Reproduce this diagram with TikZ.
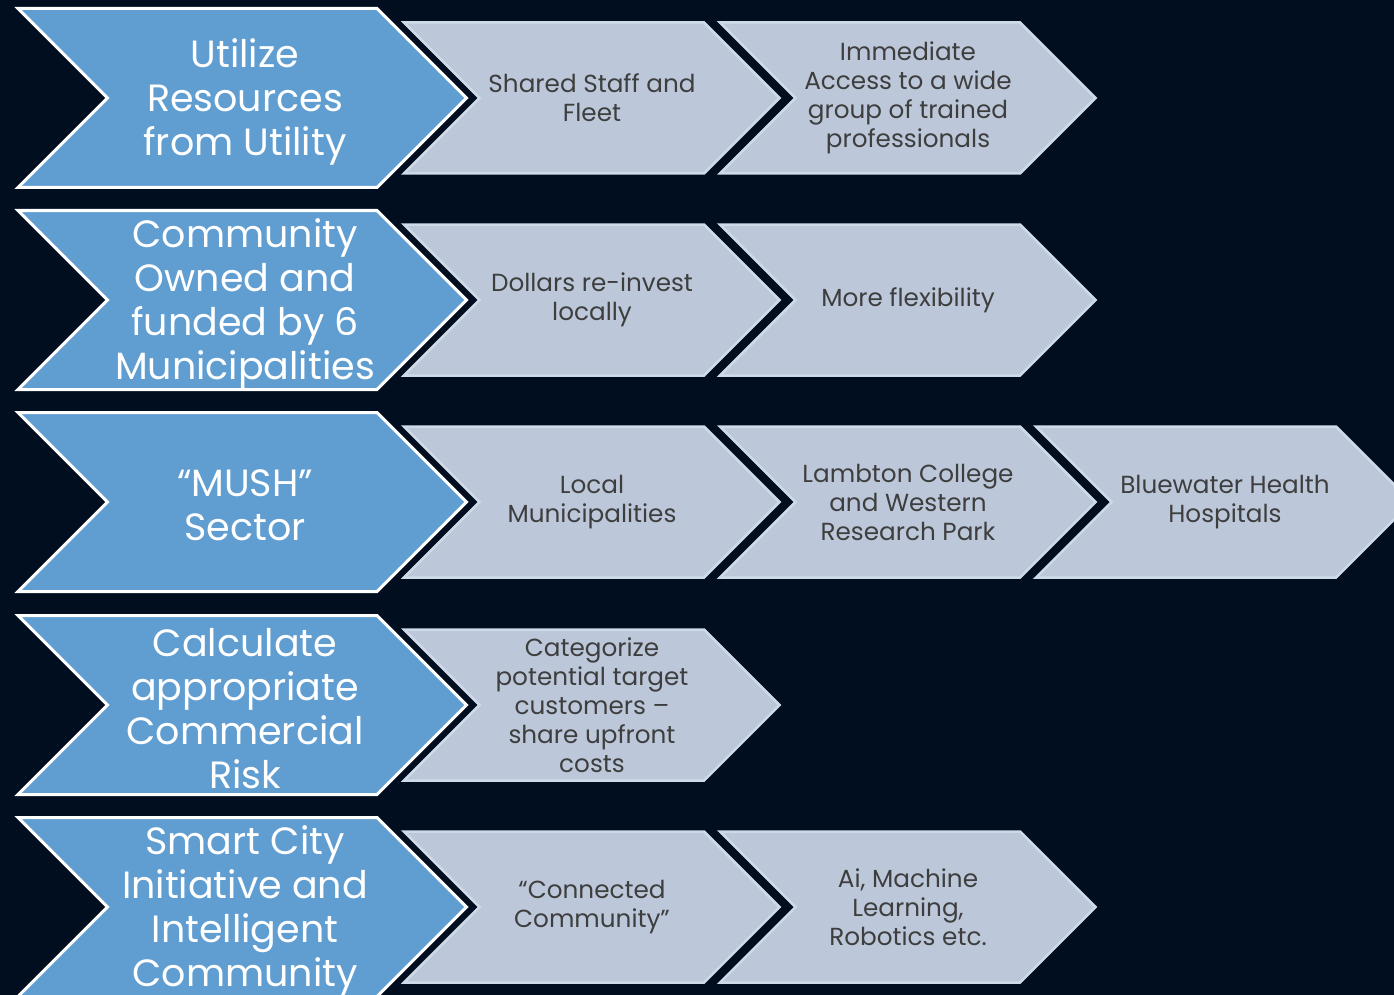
\documentclass[tikz,border=0pt]{standalone}
\usepackage{fontspec}
\setmainfont{Poppins}
\definecolor{bg}{RGB}{1,14,32}
\definecolor{chevblue}{RGB}{96,157,209}
\definecolor{chevlight}{RGB}{188,200,218}
\definecolor{chevedge}{RGB}{207,218,233}
\definecolor{txtgrey}{RGB}{62,62,62}
% chevron outline: style, left x, centre y, top edge length, half height
\newcommand\chevshape[5]{%
  \path[#1] (#2,#3-#5) -- ++(#4,0) -- ++(#5,#5) -- ++(-#5,#5) -- ++(-#4,0) -- ++(#5,-#5) -- cycle;}
\tikzset{
  bluechev/.style={fill=chevblue, draw=white, line width=3pt, line join=miter},
  lightchev/.style={fill=chevlight, draw=chevedge, line width=2.5pt, line join=miter},
  bluetext/.style={text=white, font=\fontsize{38}{44}\selectfont, align=center, inner sep=0pt, yshift=-3.5pt},
  lighttext/.style={text=txtgrey, font=\fontsize{24.7}{29}\selectfont, align=center, inner sep=0pt}
}
\begin{document}
\begin{tikzpicture}[x=1pt,y=-1pt]
\fill[bg] (0,0) rectangle (1394,995);
\useasboundingbox (0,0) rectangle (1394,995);
\clip (0,0) rectangle (1394,995);

% big blue chevrons, one per row
\foreach \yc in {98,300,502,705,907}{
  \chevshape{bluechev}{18}{\yc}{359}{89.5}
}
% light chevrons
\foreach \xo/\yc in {404/98,720/98, 404/300,720/300, 404/502,720/502,1036/502, 404/705, 404/907,720/907}{
  \chevshape{lightchev}{\xo}{\yc}{300}{75.5}
}

% row 1
\node[bluetext] (b1) at (245,98) {Utilize\\Resources\\from Utility};
\node[lighttext] (l11) at (592,98) {Shared Staff and\\Fleet};
\node[lighttext] (l12) at (908,98) {Immediate\\Access to a wide\\group of trained\\professionals};
% row 2
\node[bluetext] (b2) at (245,300) {Community\\Owned and\\funded by 6\\Municipalities};
\node[lighttext] (l21) at (592,300) {Dollars re-invest\\locally};
\node[lighttext] (l22) at (908,300) {More flexibility};
% row 3
\node[bluetext] (b3) at (245,502) {“MUSH”\\Sector};
\node[lighttext] (l31) at (592,502) {Local\\Municipalities};
\node[lighttext] (l32) at (908,502) {Lambton College\\and Western\\Research Park};
\node[lighttext] (l33) at (1225,502) {Bluewater Health\\Hospitals};
% row 4
\node[bluetext] (b4) at (245,705) {Calculate\\appropriate\\Commercial\\Risk};
\node[lighttext] (l41) at (592,705) {Categorize\\potential target\\customers –\\share upfront\\costs};
% row 5
\node[bluetext] (b5) at (245,907) {Smart City\\Initiative and\\Intelligent\\Community};
\node[lighttext] (l51) at (592,907) {“Connected\\Community”};
\node[lighttext] (l52) at (908,907) {Ai, Machine\\Learning,\\Robotics etc.};
\end{tikzpicture}
\end{document}
